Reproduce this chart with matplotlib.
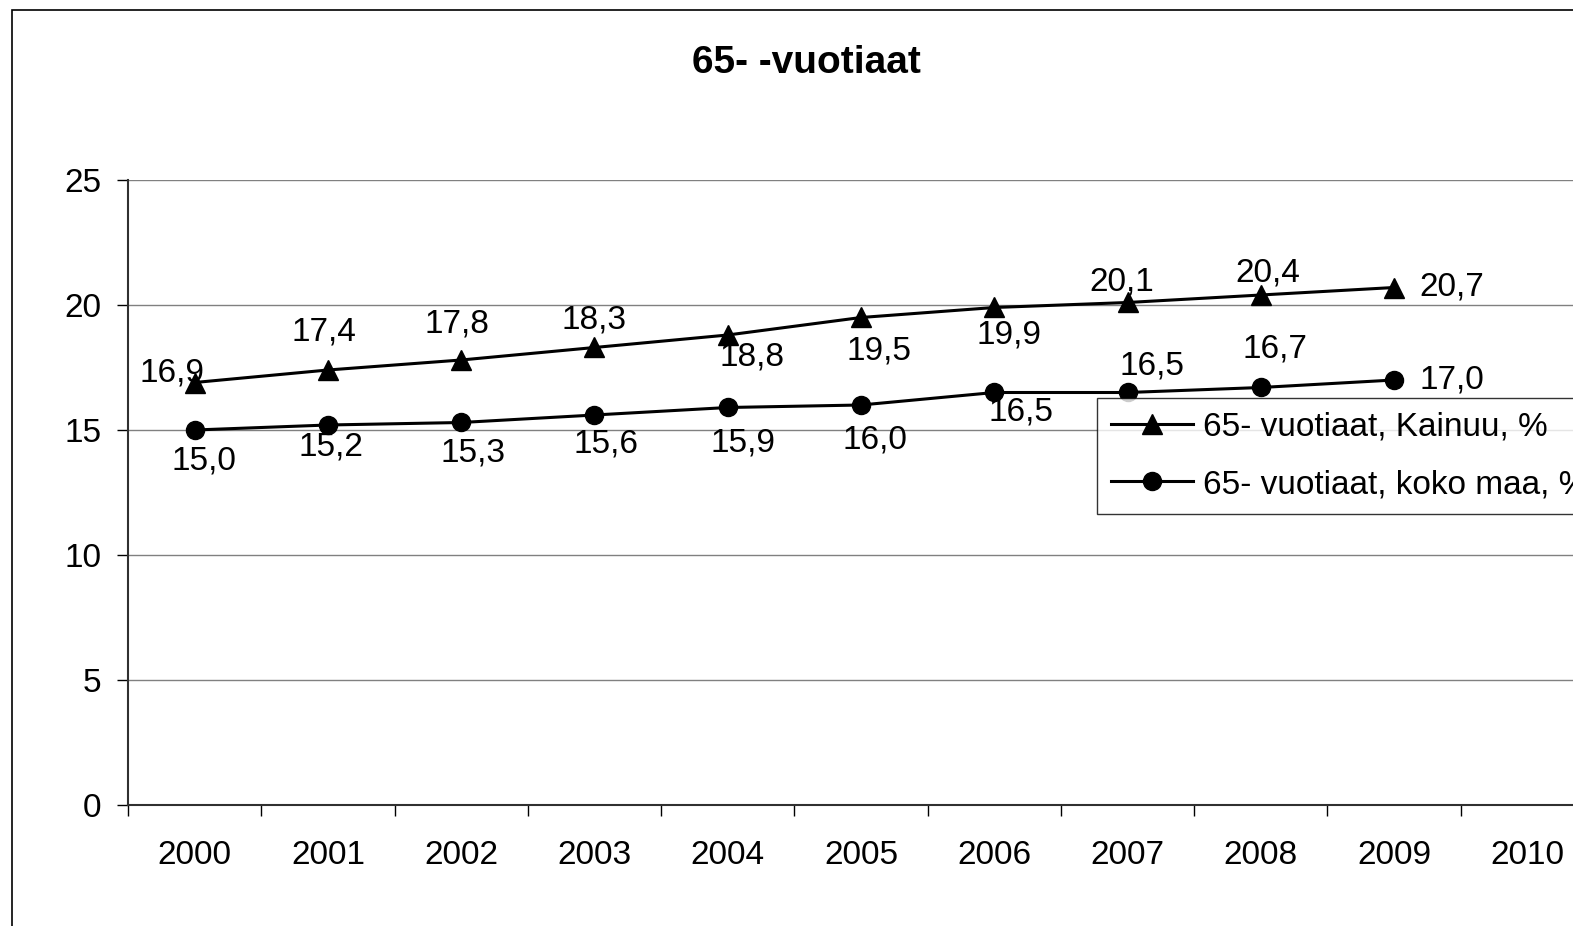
import matplotlib
matplotlib.use("Agg")
import matplotlib.pyplot as plt
from matplotlib.patches import Rectangle
import numpy as np

plt.rcParams["font.family"] = ["Liberation Sans", "DejaVu Sans"]

years = ["2000", "2001", "2002", "2003", "2004", "2005", "2006", "2007", "2008", "2009", "2010"]
kainuu = [16.9, 17.4, 17.8, 18.3, 18.8, 19.5, 19.9, 20.1, 20.4, 20.7]
koko_maa = [15.0, 15.2, 15.3, 15.6, 15.9, 16.0, 16.5, 16.5, 16.7, 17.0]

# label offsets in pixels (dx, dy)
kainuu_off = [(-23, 10), (-4, 38), (-4, 36), (0, 27), (24, -22),
              (18, -34), (15, -28), (-6, 20), (7, 22), (58, 0)]
koko_off = [(9, -31), (3, -22), (12, -31), (12, -29), (15, -36),
            (14, -35), (27, -20), (24, 26), (14, 38), (58, 0)]

FS = 24

W, H = 1573, 926
fig = plt.figure(figsize=(W / 100, H / 100), dpi=100)

# outer chart frame (cropped on the right and bottom)
fig.patches.append(Rectangle((12 / W, 1 - 940 / H), 1600 / W, 930 / H,
                             transform=fig.transFigure, fill=False,
                             edgecolor="black", linewidth=1.2))

ax = fig.add_axes([128 / W, 1 - 805 / H, 1466 / W, 625 / H])

x = np.arange(len(kainuu))
ax.plot(x, kainuu, color="black", linewidth=2.2, marker="^", markersize=15,
        label="65- vuotiaat, Kainuu, %")
ax.plot(x, koko_maa, color="black", linewidth=2.2, marker="o", markersize=13,
        label="65- vuotiaat, koko maa, %")

for xi, v, (dx, dy) in zip(x, kainuu, kainuu_off):
    ax.annotate(f"{v:.1f}".replace(".", ","), (xi, v), xytext=(dx, dy),
                textcoords="offset pixels", ha="center", va="center", fontsize=FS)
for xi, v, (dx, dy) in zip(x, koko_maa, koko_off):
    ax.annotate(f"{v:.1f}".replace(".", ","), (xi, v), xytext=(dx, dy),
                textcoords="offset pixels", ha="center", va="center", fontsize=FS)

ax.set_xlim(-0.5, len(years) - 0.5)
ax.set_ylim(0, 25)
ax.set_yticks([0, 5, 10, 15, 20, 25])
ax.set_xticks(np.arange(len(years) + 1) - 0.5)
ax.set_xticklabels([])
ax.set_xticks(np.arange(len(years)), minor=True)
ax.set_xticklabels(years, minor=True)
ax.tick_params(axis="x", which="major", length=8, width=1, direction="out")
ax.tick_params(axis="x", which="minor", length=0, pad=25, labelsize=FS)
ax.tick_params(axis="y", length=8, width=1, direction="out", pad=11, labelsize=FS)

ax.yaxis.grid(True, color="#808080", linewidth=1)
ax.set_axisbelow(True)
for s in ["top", "right"]:
    ax.spines[s].set_visible(False)
for s in ["left", "bottom"]:
    ax.spines[s].set_color("#303030")
    ax.spines[s].set_linewidth(1.5)

fig.text(806 / W, 1 - 63 / H, "65- -vuotiaat", ha="center", va="center",
         fontsize=28, fontweight="bold")

leg = ax.legend(loc="upper left", bbox_to_anchor=(1097 / W, 1 - 398 / H),
                bbox_transform=fig.transFigure, fontsize=FS, frameon=True,
                fancybox=False, edgecolor="black", borderpad=0.42,
                handlelength=2.45, handletextpad=0.3, labelspacing=0.78,
                borderaxespad=0)
leg.get_frame().set_linewidth(1)

fig.savefig("out.png", dpi=100)
